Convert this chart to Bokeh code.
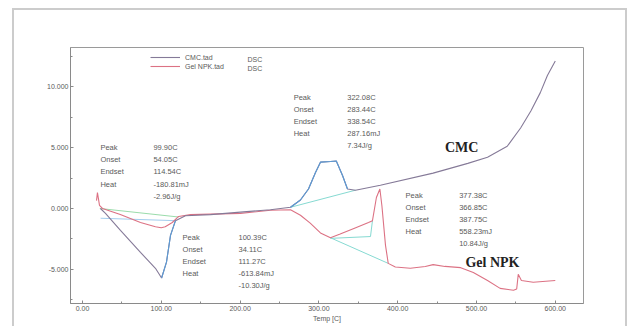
from bokeh.plotting import figure
from bokeh.models import (Range1d, FixedTicker, NumeralTickFormatter, Label,
                          Legend, LegendItem, InlineStyleSheet)
from bokeh.core.properties import value
from bokeh.embed import file_html
from bokeh.resources import INLINE

# DSC signal of CMC (temperature in C, heat flow in mW)
temp_cmc = [22.8, 29.2, 48.2, 73.6, 92.6, 100.4, 106.6, 111.7, 118.0, 130.7, 162.4,
            200.5, 238.6, 264.0, 276.6, 286.8, 295.7, 302.0, 314.7, 322.1, 330.0,
            336.3, 346.4, 378.0, 445.0, 489.0, 514.0, 539.0, 556.0, 569.0, 581.0,
            590.0, 600.0]
dsc_cmc = [0.0, -0.4, -1.8, -3.6, -4.9, -5.7, -4.4, -2.2, -1.0, -0.6, -0.5,
           -0.3, -0.1, 0.1, 0.7, 1.6, 2.95, 3.8, 3.85, 3.9, 2.7,
           1.6, 1.5, 1.9, 2.9, 3.7, 4.2, 5.1, 6.6, 8.0, 9.5,
           10.9, 12.1]

# DSC signal of Gel NPK
temp_npk = [17.8, 19.0, 21.6, 25.4, 48.0, 73.6, 92.6, 99.9, 105.0, 114.0, 122.0,
            137.0, 200.5, 238.6, 264.0, 276.6, 289.0, 302.0, 314.7, 327.0, 346.0,
            363.0, 368.0, 373.0, 377.4, 380.0, 384.5, 388.0, 397.0, 416.0, 435.0,
            445.0, 460.0, 480.0, 496.0, 514.0, 530.0, 547.0, 551.0, 553.0, 557.0,
            572.0, 600.0]
dsc_npk = [0.65, 1.3, 0.25, 0.0, -0.5, -1.15, -1.5, -1.58, -1.5, -1.15, -0.65,
           -0.5, -0.4, -0.15, -0.1, -0.55, -1.2, -2.0, -2.4, -2.1, -1.6,
           -1.15, -1.0, 0.9, 1.6, 0.2, -3.0, -4.5, -4.8, -4.9, -4.75,
           -4.6, -4.75, -4.85, -5.25, -5.9, -6.55, -6.7, -6.6, -5.4, -5.9,
           -6.05, -5.9]

# Integration baselines of the analysed peaks
base_cmc_endo_t = [23.0, 118.0]
base_cmc_endo_y = [-0.8, -1.0]
base_npk_endo_t = [22.0, 122.0]
base_npk_endo_y = [0.0, -0.7]
base_cmc_exo_t = [264.0, 346.4]
base_cmc_exo_y = [0.1, 1.5]
base_npk_exo_t = [314.7, 388.0]
base_npk_exo_y = [-2.4, -4.5]
step_npk_exo_t = [314.7, 365.5, 368.0]
step_npk_exo_y = [-2.45, -2.3, -1.0]

# Peak ranges highlighted on the CMC curve
cmc_endo_range = (95.0, 118.0)
cmc_exo_range = (264.0, 337.0)

# Peak analysis results
result_names = ["Peak", "Onset", "Endset", "Heat"]
result_a = ["99.90C", "54.05C", "114.54C", "-180.81mJ", "-2.96J/g"]
result_b = ["100.39C", "34.11C", "111.27C", "-613.84mJ", "-10.30J/g"]
result_c = ["322.08C", "283.44C", "338.54C", "287.16mJ", "7.34J/g"]
result_d = ["377.38C", "366.85C", "387.75C", "558.23mJ", "10.84J/g"]

x_ticks = [0, 100, 200, 300, 400, 500, 600]
y_ticks = [-5, 0, 5, 10]

CMC_COLOR = "#857a98"
NPK_COLOR = "#dc7284"
PEAK_BLUE = "#5b9bd5"
BASE_CYAN = "#86dad2"
BASE_GREEN = "#9adcab"
TEXT_GRAY = "#5a5a5a"
FONT = "Liberation Sans"

# grey panel border around the whole chart
panel_css = InlineStyleSheet(css="""
:host { position: relative; }
:host::after {
  content: "";
  position: absolute;
  left: 12px; top: 8px; width: 611px; height: 340px;
  border: 2px solid #cccccc;
  pointer-events: none;
}
""")

p = figure(width=635, height=326, output_backend="svg", toolbar_location=None,
           x_range=Range1d(-15.2, 635.8), y_range=Range1d(-7.79, 13.2),
           min_border_left=70, min_border_right=52, min_border_top=47,
           min_border_bottom=23, stylesheets=[panel_css])
p.xgrid.visible = False
p.ygrid.visible = False
p.outline_line_color = "#9a9a9a"
p.background_fill_color = "white"
p.border_fill_color = "white"

# axes
for ax in (p.xaxis[0], p.yaxis[0]):
    ax.axis_line_color = "#8a8a8a"
    ax.major_tick_line_color = "#8a8a8a"
    ax.minor_tick_line_color = "#8a8a8a"
    ax.major_tick_out = 0
    ax.major_tick_in = 3
    ax.minor_tick_out = 0
    ax.minor_tick_in = 2
    ax.major_label_text_font = FONT
    ax.major_label_text_font_size = "7px"
    ax.major_label_text_color = TEXT_GRAY
    ax.major_label_standoff = 2

p.xaxis.ticker = FixedTicker(ticks=x_ticks, minor_ticks=[50, 150, 250, 350, 450, 550])
p.xaxis.formatter = NumeralTickFormatter(format="0.00")
p.xaxis.axis_label = "Temp [C]"
p.xaxis.axis_label_text_font = FONT
p.xaxis.axis_label_text_font_size = "7px"
p.xaxis.axis_label_text_font_style = "normal"
p.xaxis.axis_label_text_color = TEXT_GRAY
p.xaxis.axis_label_standoff = 1

p.yaxis.ticker = FixedTicker(ticks=y_ticks, minor_ticks=[-7.5, -2.5, 2.5, 7.5, 12.5])
p.yaxis.formatter = NumeralTickFormatter(format="0.000")

# baselines
p.line(base_cmc_endo_t, base_cmc_endo_y, line_color="#a3cdee", line_width=1)
p.line(base_npk_endo_t, base_npk_endo_y, line_color=BASE_GREEN, line_width=1)
p.line(base_cmc_exo_t, base_cmc_exo_y, line_color=BASE_CYAN, line_width=1)
p.line(base_npk_exo_t, base_npk_exo_y, line_color=BASE_CYAN, line_width=1)
p.line(step_npk_exo_t, step_npk_exo_y, line_color=BASE_CYAN, line_width=1)

# main curves
r_npk = p.line(temp_npk, dsc_npk, line_color=NPK_COLOR, line_width=1.1)
r_cmc = p.line(temp_cmc, dsc_cmc, line_color=CMC_COLOR, line_width=1.1)


def section(ts, ys, lo, hi):
    pts = [(t, y) for t, y in zip(ts, ys) if lo <= t <= hi]
    return [t for t, _ in pts], [y for _, y in pts]


for lo, hi in (cmc_endo_range, cmc_exo_range):
    st, sy = section(temp_cmc, dsc_cmc, lo, hi)
    p.line(st, sy, line_color=PEAK_BLUE, line_width=1.1)

# peak analysis text blocks: (values, names x, values x, first row y, row step)
blocks = [
    (result_a, 22.8, 90.0, 5.0, -1.0),
    (result_b, 127.0, 198.0, -2.38, -0.98),
    (result_c, 268.0, 336.0, 9.1, -0.98),
    (result_d, 410.0, 478.0, 1.07, -0.98),
]
for vals, xn, xv, y0, dy in blocks:
    ys = [y0 + i * dy for i in range(len(vals))]
    p.text(x=[xn] * len(result_names), y=ys[:len(result_names)], text=result_names,
           text_font=value(FONT), text_font_size="7.5px", text_color=TEXT_GRAY,
           text_baseline="middle")
    p.text(x=[xv] * len(vals), y=ys, text=vals,
           text_font=value(FONT), text_font_size="7.5px", text_color=TEXT_GRAY,
           text_baseline="middle")

# sample names on the curves
p.text(x=[460.0, 486.0], y=[5.0, -4.43], text=["CMC", "Gel NPK"],
       text_font=value("Liberation Serif"), text_font_style="bold",
       text_font_size="14px", text_color="#222222", text_baseline="middle")

# legend
legend = Legend(items=[LegendItem(label="CMC.tad", renderers=[r_cmc]),
                       LegendItem(label="Gel NPK.tad", renderers=[r_npk])],
                location=(80, 233), glyph_width=30, glyph_height=8,
                label_height=8, label_width=50, spacing=1, padding=0, margin=0,
                label_standoff=5, label_text_font=FONT, label_text_font_size="7px",
                label_text_color=TEXT_GRAY, border_line_alpha=0,
                background_fill_alpha=0)
p.add_layout(legend)
for yy in (244, 235):
    p.add_layout(Label(x=177, y=yy, x_units="screen", y_units="screen", text="DSC",
                       text_font=FONT, text_font_size="7px", text_color=TEXT_GRAY,
                       text_baseline="middle"))

# y unit label
p.add_layout(Label(x=3, y=270, x_units="screen", y_units="screen", text="DSC",
                   text_font=FONT, text_font_size="7px", text_color=TEXT_GRAY,
                   text_align="right", text_baseline="middle"))
p.add_layout(Label(x=3, y=260, x_units="screen", y_units="screen", text="mW",
                   text_font=FONT, text_font_size="7px", text_color=TEXT_GRAY,
                   text_align="right", text_baseline="middle"))

# title
p.add_layout(Label(x=258, y=278, x_units="screen", y_units="screen",
                   text="Thermal Analysis Result", text_font=FONT,
                   text_font_style="bold", text_font_size="17px",
                   text_color="#222222", text_align="center",
                   text_baseline="middle"))

open("out.html", "w").write(file_html(p, INLINE))
